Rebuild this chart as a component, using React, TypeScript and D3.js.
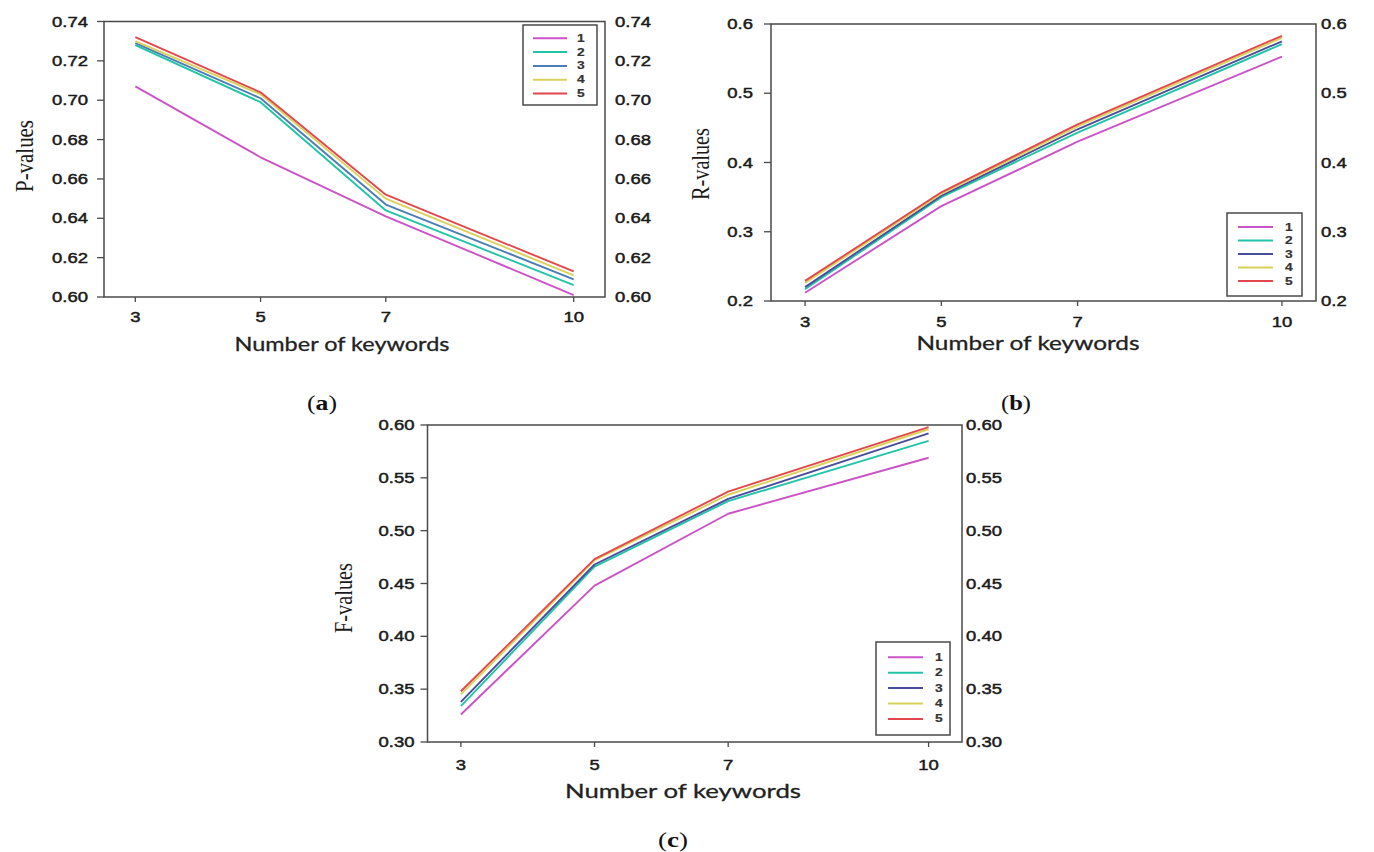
import React from "react";
import * as d3 from "d3";

// Number of keywords on the x axis
const keywordCounts = [3, 5, 7, 10];
const seriesNames = ["1", "2", "3", "4", "5"];

// Precision (P) per series
const pSeries1 = [0.707, 0.671, 0.641, 0.601];
const pSeries2 = [0.728, 0.699, 0.644, 0.606];
const pSeries3 = [0.729, 0.701, 0.647, 0.609];
const pSeries4 = [0.730, 0.703, 0.650, 0.611];
const pSeries5 = [0.732, 0.704, 0.652, 0.613];

// Recall (R) per series
const rSeries1 = [0.212, 0.337, 0.430, 0.553];
const rSeries2 = [0.217, 0.350, 0.443, 0.571];
const rSeries3 = [0.220, 0.352, 0.448, 0.575];
const rSeries4 = [0.226, 0.355, 0.452, 0.580];
const rSeries5 = [0.229, 0.357, 0.455, 0.583];

// F-measure per series
const fSeries1 = [0.326, 0.448, 0.516, 0.569];
const fSeries2 = [0.334, 0.466, 0.528, 0.585];
const fSeries3 = [0.338, 0.468, 0.530, 0.592];
const fSeries4 = [0.345, 0.472, 0.534, 0.596];
const fSeries5 = [0.348, 0.473, 0.537, 0.598];

const pTicks = [0.6, 0.62, 0.64, 0.66, 0.68, 0.7, 0.72, 0.74];
const rTicks = [0.2, 0.3, 0.4, 0.5, 0.6];
const fTicks = [0.3, 0.35, 0.4, 0.45, 0.5, 0.55, 0.6];

const TICK_FONT = "'Liberation Sans', Arial, sans-serif";
const TITLE_FONT = "Lato, 'Open Sans', sans-serif";
const SERIF = "'Liberation Serif', 'Times New Roman', serif";

type Panel = {
  key: string;
  values: number[][];
  colors: string[];
  yDomain: [number, number];
  yTicks: number[];
  yFormat: string;
  yTitle: string;
  caption: string;
  frame: { left: number; right: number; top: number; bottom: number };
  leftLabelEnd: number;
  rightLabelStart: number;
  xLabelY: number;
  xTitle: { x: number; y: number; len: number };
  yTitlePos: { x: number; y: number; len: number };
  captionPos: { x: number; y: number };
  legend: { left: number; right: number; top: number; bottom: number; y0: number; dy: number; lx0: number; lx1: number; tx: number };
};

const MAGENTA = "#cc52c8";
const TEAL = "#22c4a8";
const STEEL = "#4a7db6";
const NAVY = "#4a4c9c";
const YELLOW = "#d8d25a";
const RED = "#e2474c";

const panels: Panel[] = [
  {
    key: "a",
    values: [pSeries1, pSeries2, pSeries3, pSeries4, pSeries5],
    colors: [MAGENTA, TEAL, STEEL, YELLOW, RED],
    yDomain: [0.6, 0.74],
    yTicks: pTicks,
    yFormat: ".2f",
    yTitle: "P-values",
    caption: "a",
    frame: { left: 104, right: 605, top: 21.5, bottom: 297 },
    leftLabelEnd: 88,
    rightLabelStart: 615,
    xLabelY: 317,
    xTitle: { x: 342, y: 343, len: 215 },
    yTitlePos: { x: 25, y: 156, len: 72 },
    captionPos: { x: 322, y: 403 },
    legend: { left: 523, right: 597, top: 25, bottom: 105, y0: 38.3, dy: 13.8, lx0: 533, lx1: 567, tx: 577 },
  },
  {
    key: "b",
    values: [rSeries1, rSeries2, rSeries3, rSeries4, rSeries5],
    colors: [MAGENTA, TEAL, NAVY, YELLOW, RED],
    yDomain: [0.2, 0.6],
    yTicks: rTicks,
    yFormat: ".1f",
    yTitle: "R-values",
    caption: "b",
    frame: { left: 771, right: 1316, top: 24, bottom: 301 },
    leftLabelEnd: 753,
    rightLabelStart: 1321,
    xLabelY: 322,
    xTitle: { x: 1028, y: 342, len: 223 },
    yTitlePos: { x: 701, y: 164, len: 72 },
    captionPos: { x: 1016, y: 403 },
    legend: { left: 1227, right: 1302, top: 213, bottom: 296, y0: 227, dy: 13.5, lx0: 1238, lx1: 1273, tx: 1285 },
  },
  {
    key: "c",
    values: [fSeries1, fSeries2, fSeries3, fSeries4, fSeries5],
    colors: [MAGENTA, TEAL, NAVY, YELLOW, RED],
    yDomain: [0.3, 0.6],
    yTicks: fTicks,
    yFormat: ".2f",
    yTitle: "F-values",
    caption: "c",
    frame: { left: 427.5, right: 962, top: 425, bottom: 742 },
    leftLabelEnd: 414.5,
    rightLabelStart: 966,
    xLabelY: 765,
    xTitle: { x: 683, y: 790, len: 236 },
    yTitlePos: { x: 344, y: 598, len: 70 },
    captionPos: { x: 673, y: 840 },
    legend: { left: 876, right: 950, top: 642, bottom: 735, y0: 657.3, dy: 15.4, lx0: 888, lx1: 923, tx: 935 },
  },
];

function STxt(props: {
  x: number;
  y: number;
  anchor?: "start" | "middle" | "end";
  size: number;
  sx?: number;
  family?: string;
  fill?: string;
  weight?: number | string;
  heavy?: number;
  children: React.ReactNode;
}) {
  const { x, y, anchor = "start", size, sx = 1.32, family = TICK_FONT, fill = "#1a1a1a", weight = 400, heavy = 0.45 } = props;
  return (
    <text
      transform={`translate(${x},${y}) scale(${sx},1)`}
      textAnchor={anchor}
      dominantBaseline="central"
      fontFamily={family}
      fontSize={size}
      fontWeight={weight}
      fill={fill}
      stroke={fill}
      strokeWidth={heavy}
    >
      {props.children}
    </text>
  );
}

function ChartPanel({ p }: { p: Panel }) {
  const { frame } = p;
  const x = d3.scaleLinear().domain([2.5, 10.5]).range([frame.left, frame.right]);
  const y = d3.scaleLinear().domain(p.yDomain).range([frame.bottom, frame.top]);
  const fmt = d3.format(p.yFormat);
  const line = d3
    .line<number>()
    .x((_, i) => x(keywordCounts[i]))
    .y((v) => y(v));
  const tickLen = 7;
  const lg = p.legend;

  return (
    <g>
      {/* series lines */}
      {p.values.map((vals, i) => (
        <path
          key={i}
          d={line(vals) || ""}
          fill="none"
          stroke={p.colors[i]}
          strokeWidth={1.9}
          strokeLinejoin="round"
        />
      ))}

      {/* frame */}
      <rect
        x={frame.left}
        y={frame.top}
        width={frame.right - frame.left}
        height={frame.bottom - frame.top}
        fill="none"
        stroke="#4a4a4a"
        strokeWidth={1.5}
      />

      {/* left y ticks and labels, mirrored labels on the right */}
      {p.yTicks.map((t) => (
        <g key={t}>
          <line x1={frame.left - tickLen} x2={frame.left} y1={y(t)} y2={y(t)} stroke="#4a4a4a" strokeWidth={1.3} />
          <STxt x={p.leftLabelEnd} y={y(t)} anchor="end" size={14}>
            {fmt(t)}
          </STxt>
          <STxt x={p.rightLabelStart} y={y(t)} anchor="start" size={14}>
            {fmt(t)}
          </STxt>
        </g>
      ))}

      {/* x ticks and labels */}
      {keywordCounts.map((k) => (
        <g key={k}>
          <line x1={x(k)} x2={x(k)} y1={frame.bottom} y2={frame.bottom + 5} stroke="#4a4a4a" strokeWidth={1.3} />
          <STxt x={x(k)} y={p.xLabelY} anchor="middle" size={14}>
            {k}
          </STxt>
        </g>
      ))}

      {/* axis titles */}
      <text
        x={p.xTitle.x}
        y={p.xTitle.y}
        textAnchor="middle"
        dominantBaseline="central"
        fontFamily={TITLE_FONT}
        fontSize={20}
        fill="#222"
        stroke="#222"
        strokeWidth={0.3}
        textLength={p.xTitle.len}
        lengthAdjust="spacingAndGlyphs"
      >
        Number of keywords
      </text>
      <text
        transform={`translate(${p.yTitlePos.x},${p.yTitlePos.y}) scale(1.3,1) rotate(-90)`}
        textAnchor="middle"
        dominantBaseline="central"
        fontFamily={SERIF}
        fontSize={19}
        fill="#1a1a1a"
        textLength={p.yTitlePos.len}
        lengthAdjust="spacingAndGlyphs"
      >
        {p.yTitle}
      </text>

      {/* legend */}
      <rect
        x={lg.left}
        y={lg.top}
        width={lg.right - lg.left}
        height={lg.bottom - lg.top}
        fill="#fff"
        stroke="#4a4a4a"
        strokeWidth={1.5}
      />
      {seriesNames.map((name, i) => {
        const ly = lg.y0 + i * lg.dy;
        return (
          <g key={name}>
            <line x1={lg.lx0} x2={lg.lx1} y1={ly} y2={ly} stroke={p.colors[i]} strokeWidth={2} />
            <STxt x={lg.tx} y={ly} anchor="start" size={11} sx={1.25} weight={700} fill="#333" heavy={0.2}>
              {name}
            </STxt>
          </g>
        );
      })}

      {/* panel caption */}
      <text
        x={p.captionPos.x}
        y={p.captionPos.y}
        textAnchor="middle"
        dominantBaseline="central"
        fontFamily={SERIF}
        fontSize={21}
        fill="#111"
        textLength={30}
        lengthAdjust="spacingAndGlyphs"
      >
        (<tspan fontWeight={700}>{p.caption}</tspan>)
      </text>
    </g>
  );
}

export default function App() {
  return (
    <svg
      width={1374}
      height={852}
      viewBox="0 0 1374 852"
      style={{ position: "absolute", left: 0, top: 0, background: "#fff" }}
    >
      <rect width={1374} height={852} fill="#fff" />
      {panels.map((p) => (
        <ChartPanel key={p.key} p={p} />
      ))}
    </svg>
  );
}
